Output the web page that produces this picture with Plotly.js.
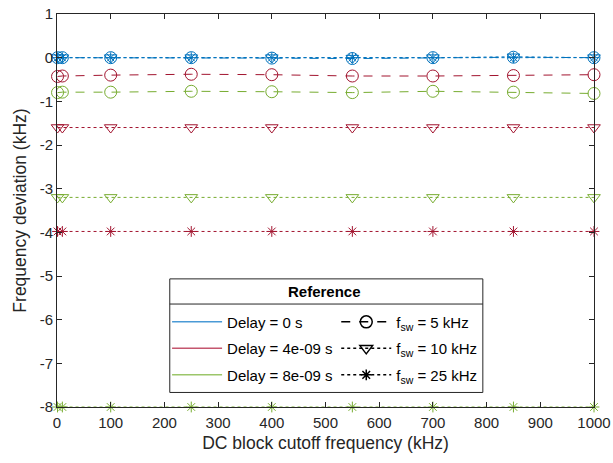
<!DOCTYPE html>
<html><head><meta charset="utf-8">
<script src="https://cdn.plot.ly/plotly-3.0.1.min.js"></script>
<style>body{margin:0;padding:0;background:#fff}#chart{width:613px;height:463px}</style>
</head><body><div id="chart"></div>
<script>
const cutoff = [1, 10, 100, 250, 400, 550, 700, 850, 1000];
const blue5  = [0.00, 0.00, 0.00, 0.00, -0.01, -0.02, 0.00, 0.01, 0.00];
const blue10 = [0.00, 0.00, 0.00, 0.00, 0.00, -0.01, 0.00, 0.02, 0.00];
const blue25 = [0.00, 0.00, 0.00, 0.00, 0.00, 0.00, 0.00, 0.00, 0.00];
const red5   = [-0.43, -0.42, -0.40, -0.38, -0.39, -0.42, -0.42, -0.41, -0.39];
const red10  = [-1.60, -1.60, -1.60, -1.60, -1.60, -1.60, -1.60, -1.60, -1.60];
const red25  = [-3.98, -3.98, -3.98, -3.98, -3.98, -3.98, -3.98, -3.98, -3.98];
const green5 = [-0.80, -0.79, -0.79, -0.77, -0.78, -0.80, -0.77, -0.79, -0.82];
const green10= [-3.20, -3.20, -3.20, -3.20, -3.20, -3.20, -3.20, -3.20, -3.20];
const green25= [-8.00, -8.00, -8.00, -8.00, -8.00, -8.00, -8.00, -8.00, -8.00];
const xTicks = [0, 100, 200, 300, 400, 500, 600, 700, 800, 900, 1000];
const yTicks = [-8, -7, -6, -5, -4, -3, -2, -1, 0, 1];
const yTickText = ['-8', '-7', '-6', '-5', '-4', '-3', '-2', '-1', '0', '1'];
const delayLabels = ['Delay = 0 s', 'Delay = 4e-09 s', 'Delay = 8e-09 s'];
const fswLabels = ['f<sub>sw</sub> = 5 kHz', 'f<sub>sw</sub> = 10 kHz', 'f<sub>sw</sub> = 25 kHz'];

const colors = ['#0072BD', '#A2142F', '#77AC30'];
const legendColors = ['#4a9ad6', '#c4566e', '#9cc66a'];
const dashes = ['dash', 'dot', 'dot'];
const symbols = ['circle-open', 'triangle-down-open', 'asterisk-open'];
const sizes = [12, 11, 9];
const series = [[blue5, blue10, blue25], [red5, red10, red25], [green5, green10, green25]];

const traces = [];
series.forEach((grp, ci) => {
  grp.forEach((vals, fi) => {
    traces.push({
      x: cutoff, y: vals, type: 'scatter', mode: 'lines+markers',
      line: {color: colors[ci], width: 1, dash: dashes[fi]},
      marker: {symbol: symbols[fi], size: sizes[fi], color: colors[ci], line: {color: colors[ci], width: 1}},
      showlegend: false, cliponaxis: false, hoverinfo: 'skip'
    });
  });
});
delayLabels.forEach((lab, i) => {
  traces.push({x: [null], y: [null], type: 'scatter', mode: 'lines', name: lab,
    line: {color: legendColors[i], width: 1.5}, legend: 'legend', legendgroup: 'd' + i, showlegend: true});
});
fswLabels.forEach((lab, i) => {
  traces.push({x: [null], y: [null], type: 'scatter', mode: 'lines+markers', name: lab,
    line: {color: '#000', width: 1.5, dash: dashes[i]},
    marker: {symbol: symbols[i], size: sizes[i], color: '#000', line: {color: '#000', width: 1.5}},
    legend: 'legend2', legendgroup: 'f' + i, showlegend: true});
});

const font = {family: 'Liberation Sans, Arial, sans-serif', size: 15, color: '#262626'};
const layout = {
  width: 613, height: 463,
  margin: {l: 57, r: 19, t: 14, b: 56},
  paper_bgcolor: '#fff', plot_bgcolor: '#fff',
  font: font,
  xaxis: {
    range: [0, 1000], tickvals: xTicks,
    ticks: 'inside', ticklen: 5, tickcolor: '#262626', showgrid: false, zeroline: false,
    showline: true, linecolor: '#262626', linewidth: 1, mirror: 'ticks',
    title: {text: 'DC block cutoff frequency (kHz)', font: {size: 17.5, color: '#262626'}, standoff: 6},
    tickfont: {size: 15, color: '#262626'}, ticklabelstandoff: 2
  },
  yaxis: {
    range: [-8, 1], tickvals: yTicks, ticktext: yTickText,
    ticks: 'inside', ticklen: 5, tickcolor: '#262626', showgrid: false, zeroline: false,
    showline: true, linecolor: '#262626', linewidth: 1, mirror: 'ticks',
    title: {text: 'Frequency deviation (kHz)', font: {size: 17.5, color: '#262626'}, standoff: 8},
    tickfont: {size: 15, color: '#262626'}
  },
  legend: {
    x: 0.205, y: 0.258, xanchor: 'left', yanchor: 'top', bgcolor: 'rgba(0,0,0,0)',
    borderwidth: 0, font: {size: 15, color: '#000'}, traceorder: 'grouped', tracegroupgap: 4,
    itemwidth: 50
  },
  legend2: {
    x: 0.52, y: 0.258, xanchor: 'left', yanchor: 'top', bgcolor: 'rgba(0,0,0,0)',
    borderwidth: 0, font: {size: 15, color: '#000'}, traceorder: 'grouped', tracegroupgap: 4,
    itemwidth: 50
  },
  shapes: [
    {type: 'rect', xref: 'paper', yref: 'paper', x0: 0.21, x1: 0.793, y0: 0.037, y1: 0.326,
     line: {color: '#262626', width: 1}, fillcolor: '#fff', layer: 'below'},
    {type: 'line', xref: 'paper', yref: 'paper', x0: 0.21, x1: 0.793, y0: 0.262, y1: 0.262,
     line: {color: '#262626', width: 1}}
  ],
  annotations: [
    {xref: 'paper', yref: 'paper', x: 0.499, y: 0.293, text: '<b>Reference</b>', showarrow: false,
     font: {size: 15, color: '#000'}, xanchor: 'center', yanchor: 'middle'}
  ]
};
Plotly.newPlot('chart', traces, layout, {displayModeBar: false, staticPlot: true});
</script></body></html>
